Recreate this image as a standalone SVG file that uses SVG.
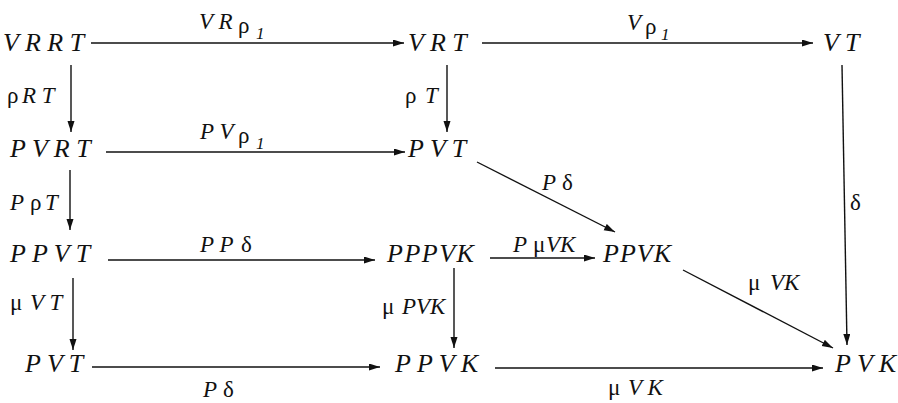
<svg xmlns="http://www.w3.org/2000/svg" width="898" height="403" viewBox="0 0 898 403">
<style>
text{font-family:"Liberation Serif","Times New Roman",serif;font-style:italic;fill:#111}
.n{font-size:26px}
.l{font-size:23px}
.g{font-style:normal}
.s{font-size:17px}
.c line{stroke:#111;stroke-width:1.4;fill:none}
</style>
<defs>
<marker id="ah" markerUnits="userSpaceOnUse" markerWidth="12" markerHeight="8" refX="11" refY="3.5" orient="auto">
<path d="M0,0 L11,3.5 L0,7 Z" fill="#111"/>
</marker>
</defs>
<rect width="898" height="403" fill="#fff"/>
<g id="VRRT"><text class="n" x="3" y="51">V R R T</text></g>
<g id="VRT"><text class="n" x="408" y="51">V R T</text></g>
<g id="VT"><text class="n" x="823" y="51">V T</text></g>
<g id="PVRT"><text class="n" x="10" y="157">P V R T</text></g>
<g id="PVT1"><text class="n" x="408" y="157">P V T</text></g>
<g id="PPVT"><text class="n" x="10" y="262">P P V T</text></g>
<g id="PPPVK"><text class="n" x="387" y="262" letter-spacing="1.5">PPPVK</text></g>
<g id="PPVK1"><text class="n" x="603" y="262" letter-spacing="1">PPVK</text></g>
<g id="PVT2"><text class="n" x="25" y="372">P V T</text></g>
<g id="PPVK2"><text class="n" x="395" y="372">P P V K</text></g>
<g id="PVK"><text class="n" x="835" y="372">P V K</text></g>
<g class="c" id="connectors">
<line x1="91" y1="43" x2="404" y2="43" marker-end="url(#ah)"/>
<line x1="482" y1="43" x2="813" y2="43" marker-end="url(#ah)"/>
<line x1="106" y1="152" x2="405" y2="152" marker-end="url(#ah)"/>
<line x1="108" y1="260" x2="375" y2="260" marker-end="url(#ah)"/>
<line x1="490" y1="258" x2="595" y2="258" marker-end="url(#ah)"/>
<line x1="92" y1="367" x2="380" y2="367" marker-end="url(#ah)"/>
<line x1="495" y1="368" x2="823" y2="368" marker-end="url(#ah)"/>
<line x1="71" y1="65" x2="71" y2="132" marker-end="url(#ah)"/>
<line x1="447" y1="65" x2="447" y2="132" marker-end="url(#ah)"/>
<line x1="842" y1="65" x2="847" y2="345" marker-end="url(#ah)"/>
<line x1="70" y1="170" x2="70" y2="230" marker-end="url(#ah)"/>
<line x1="73" y1="278" x2="73" y2="350" marker-end="url(#ah)"/>
<line x1="454" y1="268" x2="454" y2="348" marker-end="url(#ah)"/>
<line x1="477" y1="162" x2="615" y2="232" marker-end="url(#ah)"/>
<line x1="683" y1="270" x2="833" y2="348" marker-end="url(#ah)"/>
</g>
<g id="labels">
<text class="l"><tspan x="199" y="29">V R</tspan><tspan class="g" x="238" y="33">ρ</tspan><tspan class="s" x="256" y="39">1</tspan></text>
<text class="l"><tspan x="627" y="30">V</tspan><tspan class="g" x="645" y="34">ρ</tspan><tspan class="s" x="661" y="40">1</tspan></text>
<text class="l"><tspan x="200" y="139">P V</tspan><tspan class="g" x="238" y="143">ρ</tspan><tspan class="s" x="256" y="149">1</tspan></text>
<text class="l"><tspan class="g" x="7" y="103">ρ</tspan><tspan x="22" y="103">R T</tspan></text>
<text class="l"><tspan class="g" x="405" y="103">ρ</tspan><tspan x="425" y="103">T</tspan></text>
<text class="l"><tspan x="10" y="210">P</tspan><tspan class="g" x="30" y="210">ρ</tspan><tspan x="45" y="210">T</tspan></text>
<text class="l"><tspan x="200" y="252">P P</tspan><tspan class="g" x="241" y="252">δ</tspan></text>
<text class="l"><tspan x="542" y="190">P</tspan><tspan class="g" x="562" y="190">δ</tspan></text>
<text class="l g" x="850" y="210">δ</text>
<text class="l"><tspan x="513" y="252">P</tspan><tspan class="g" x="533" y="252">μ</tspan><tspan x="546" y="252">VK</tspan></text>
<text class="l"><tspan class="g" x="382" y="314">μ</tspan><tspan x="402" y="314">PVK</tspan></text>
<text class="l"><tspan class="g" x="10" y="310">μ</tspan><tspan x="30" y="310">V T</tspan></text>
<text class="l"><tspan class="g" x="748" y="290">μ</tspan><tspan x="770" y="290">VK</tspan></text>
<text class="l"><tspan x="203" y="397">P</tspan><tspan class="g" x="223" y="397">δ</tspan></text>
<text class="l"><tspan class="g" x="608" y="395">μ</tspan><tspan x="628" y="395">V K</tspan></text>
</g>
</svg>
